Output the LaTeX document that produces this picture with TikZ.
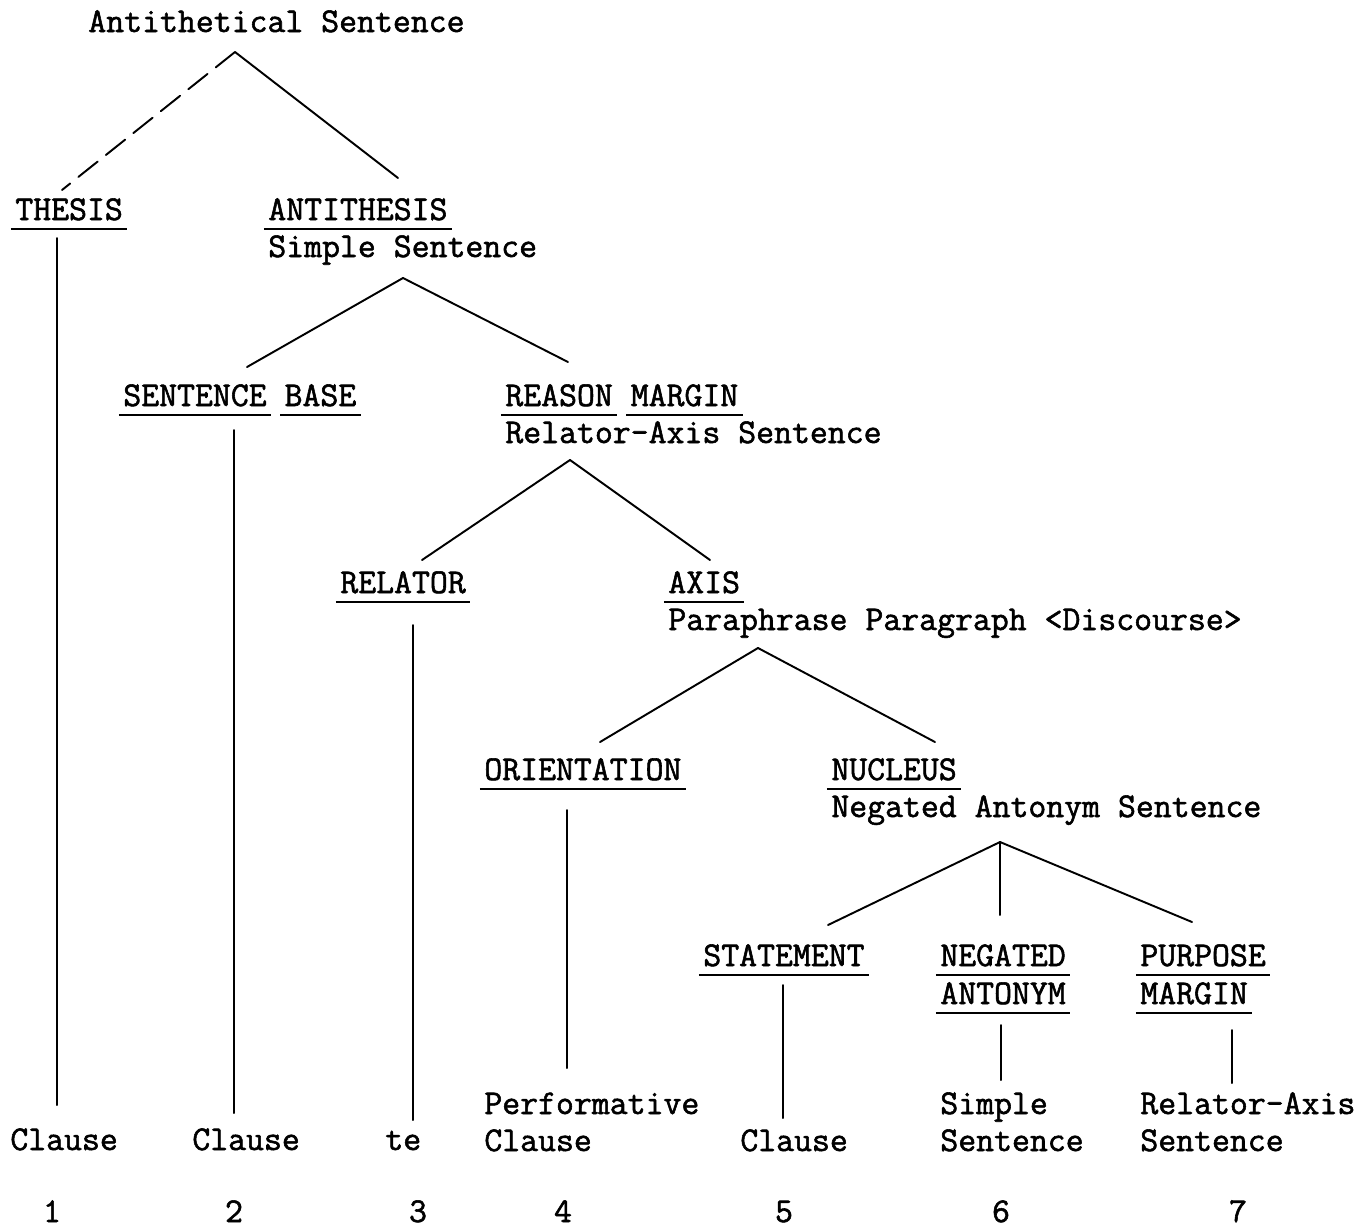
\documentclass[tikz,border=0pt]{standalone}
\usepackage{fontspec}
\usepackage{tikz}
\usetikzlibrary{positioning}

\newfontfamily\typewr[FakeBold=1.6]{Latin Modern Mono}
% underlined slot name, the rule overhangs the word a little
\newcommand\slotname[1]{\kern-2.5pt\relax\vtop{\hbox{\kern2.5pt\relax#1\kern2.5pt\relax}\kern4.5pt\hrule height 1pt}\kern-2.5pt\relax}

\begin{document}
\begin{tikzpicture}[
  x=0.02cm, y=-0.02cm,
  font=\typewr\fontsize{19.8}{21}\selectfont,
  txt/.style={anchor=base west, inner sep=0pt},
  num/.style={anchor=base, inner sep=0pt},
  branch/.style={line width=1.1pt, line cap=round},
  brokenbranch/.style={branch, dash pattern=on 14pt off 6pt},
]
\useasboundingbox (0,0) rectangle (1361,1228);

%% ── Sentence levels ──────────────────────────────────────────────────────────
\node[txt] (root)     at (88,32)   {Antithetical Sentence};
\node[txt] (thesis)   at (15,220)  {\slotname{THESIS}};
\node[txt] (anti)     at (268,220) {\slotname{ANTITHESIS}};
\node[txt] (antiS)    at (268,257) {Simple Sentence};
\node[txt] (sbase)    at (123,406) {\slotname{SENTENCE} \slotname{BASE}};
\node[txt] (rmarg)    at (505,406) {\slotname{REASON} \slotname{MARGIN}};
\node[txt] (rmargS)   at (505,443) {Relator-Axis Sentence};
\node[txt] (relator)  at (340,593) {\slotname{RELATOR}};
\node[txt] (axis)     at (668,593) {\slotname{AXIS}};
\node[txt] (axisS)    at (668,630) {Paraphrase Paragraph <Discourse>};
\node[txt] (orient)   at (484,780) {\slotname{ORIENTATION}};
\node[txt] (nucleus)  at (831,780) {\slotname{NUCLEUS}};
\node[txt] (nucleusS) at (831,817) {Negated Antonym Sentence};
\node[txt] (stmt)     at (703,966) {\slotname{STATEMENT}};
\node[txt] (negA)     at (940,966) {\slotname{NEGATED}};
\node[txt] (negB)     at (940,1004) {\slotname{ANTONYM}};
\node[txt] (purpA)    at (1140,966) {\slotname{PURPOSE}};
\node[txt] (purpB)    at (1140,1004) {\slotname{MARGIN}};

%% ── Fillers on the bottom row ────────────────────────────────────────────────
\node[txt] (fill1)  at (10,1150)   {Clause};
\node[txt] (fill2)  at (192,1150)  {Clause};
\node[txt] (fill3)  at (385,1150)  {te};
\node[txt] (fill4a) at (484,1114)  {Performative};
\node[txt] (fill4b) at (484,1151)  {Clause};
\node[txt] (fill5)  at (740,1151)  {Clause};
\node[txt] (fill6a) at (940,1114)  {Simple};
\node[txt] (fill6b) at (940,1151)  {Sentence};
\node[txt] (fill7a) at (1140,1114) {Relator-Axis};
\node[txt] (fill7b) at (1140,1151) {Sentence};

%% ── Numbers ──────────────────────────────────────────────────────────────────
\foreach \n/\xx in {1/52, 2/234, 3/418, 4/563, 5/784, 6/1001, 7/1238}
  \node[num] (no\n) at (\xx,1222) {\n};

%% ── Branch points ────────────────────────────────────────────────────────────
\coordinate (rootTop)    at (235,52);
\coordinate (thesisIn)   at (62,190);
\coordinate (antiIn)     at (398,178);
\coordinate (antiTop)    at (403,278);
\coordinate (sbaseIn)    at (247,367);
\coordinate (rmargIn)    at (568,362);
\coordinate (rmargTop)   at (570,460);
\coordinate (relatorIn)  at (422,560);
\coordinate (axisIn)     at (710,560);
\coordinate (axisTop)    at (758,648);
\coordinate (orientIn)   at (600,742);
\coordinate (nucleusIn)  at (935,742);
\coordinate (nucleusTop) at (1000,842);
\coordinate (stmtIn)     at (828,925);
\coordinate (negIn)      at (1000,915);
\coordinate (purpIn)     at (1192,922);

\draw[brokenbranch] (rootTop) -- (thesisIn);
\draw[branch] (rootTop) -- (antiIn);
\draw[branch] (antiTop) -- (sbaseIn);
\draw[branch] (antiTop) -- (rmargIn);
\draw[branch] (rmargTop) -- (relatorIn);
\draw[branch] (rmargTop) -- (axisIn);
\draw[branch] (axisTop) -- (orientIn);
\draw[branch] (axisTop) -- (nucleusIn);
\draw[branch] (nucleusTop) -- (stmtIn);
\draw[branch] (nucleusTop) -- (negIn);
\draw[branch] (nucleusTop) -- (purpIn);

%% ── Drop lines down to the fillers ───────────────────────────────────────────
\foreach \k/\xx/\ya/\yb in {1/57/238/1105, 2/234/430/1113, 3/413/625/1120,
    4/567/810/1068, 5/783/985/1118, 6/1001/1025/1080, 7/1232/1030/1083} {
  \coordinate (drop\k a) at (\xx,\ya);
  \coordinate (drop\k b) at (\xx,\yb);
  \draw[branch] (drop\k a) -- (drop\k b);
}

\end{tikzpicture}
\end{document}
